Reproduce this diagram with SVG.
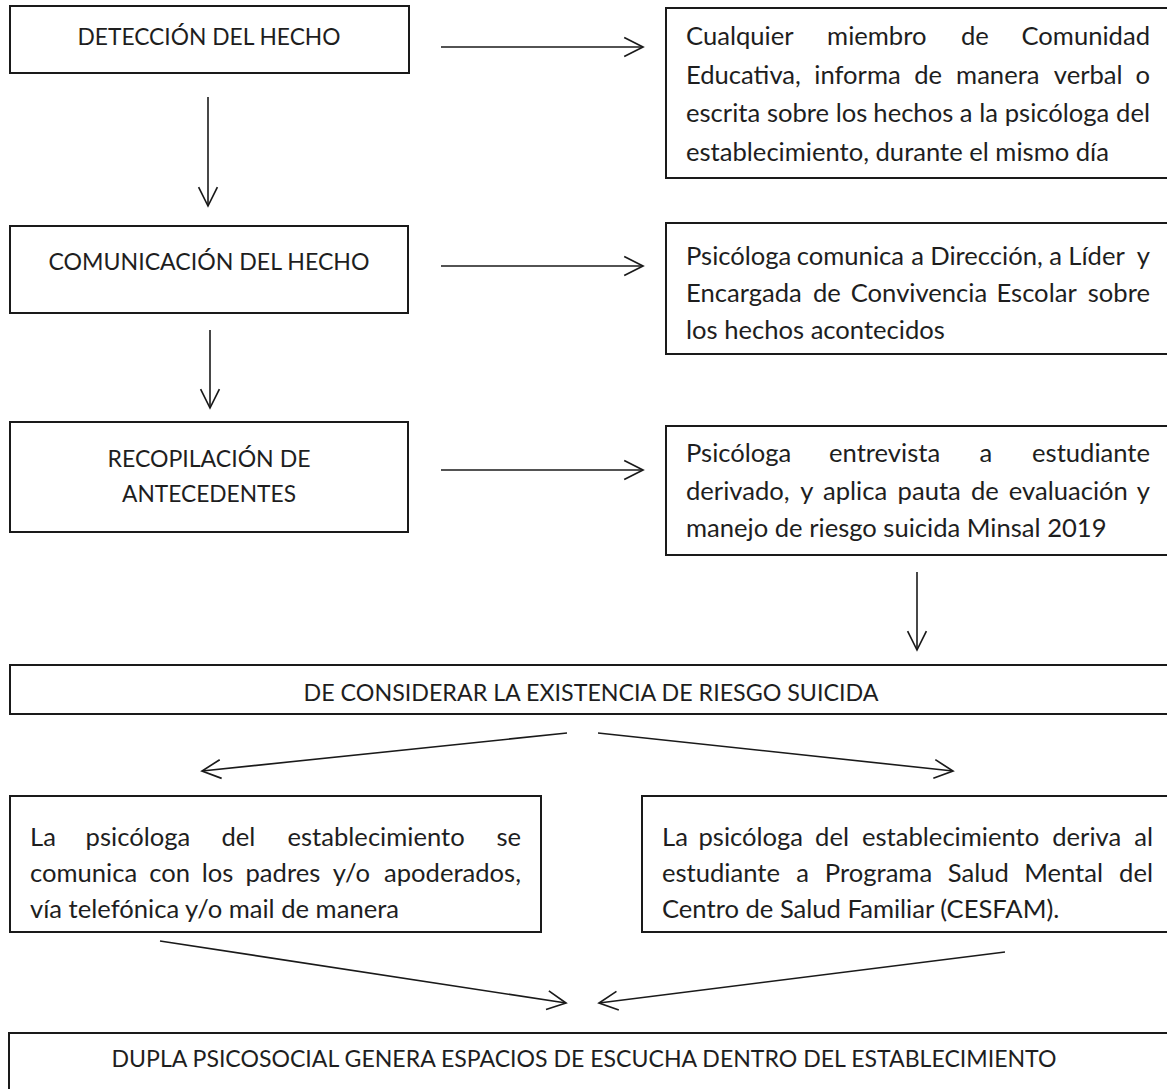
<svg xmlns="http://www.w3.org/2000/svg" width="1167" height="1089" viewBox="0 0 1167 1089">
<style>
.box{fill:#fff;stroke:#1a1a1a;stroke-width:2}
.t{font-family:Lato,"Liberation Sans",sans-serif;font-size:25.6px;fill:#1e1e1e}
.h{font-family:Lato,"Liberation Sans",sans-serif;font-size:24px;fill:#1e1e1e;text-anchor:middle}
.conn line{stroke:#1a1a1a;stroke-width:1.6;marker-end:url(#ah)}
</style>
<defs>
<marker id="ah" markerUnits="userSpaceOnUse" markerWidth="24" markerHeight="24" viewBox="-21 -11 23 22" refX="0" refY="0" orient="auto" overflow="visible">
<path d="M-18,-9 L0,0 L-18,9" fill="none" stroke="#1a1a1a" stroke-width="1.6"/>
</marker>
</defs>
<rect width="1167" height="1089" fill="#fff"/>
<g id="connectors" class="conn">
<line x1="441" y1="47" x2="643" y2="47"/>
<line x1="208" y1="97" x2="208" y2="206"/>
<line x1="441" y1="266" x2="643" y2="266"/>
<line x1="210" y1="330" x2="210" y2="408"/>
<line x1="441" y1="470" x2="643" y2="470"/>
<line x1="917" y1="572" x2="917" y2="650"/>
<line x1="567" y1="733" x2="202" y2="771"/>
<line x1="598" y1="733" x2="953" y2="771"/>
<line x1="160" y1="941" x2="566" y2="1003"/>
<line x1="1005" y1="952" x2="599" y2="1003"/>
</g>
<g id="n1">
<rect class="box" x="10" y="6" width="399" height="67"/>
<text class="h" x="209" y="45" textLength="263" lengthAdjust="spacingAndGlyphs">DETECCIÓN DEL HECHO</text>
</g>
<g id="n2">
<rect class="box" x="666" y="8" width="509" height="170"/>
<text class="t" y="45"><tspan x="686">Cualquier</tspan><tspan x="876.8" text-anchor="middle">miembro</tspan><tspan x="974.9" text-anchor="middle">de</tspan><tspan x="1150" text-anchor="end">Comunidad</tspan></text>
<text class="t" y="84"><tspan x="686">Educativa,</tspan><tspan x="857.5" text-anchor="middle">informa</tspan><tspan x="928.2" text-anchor="middle">de</tspan><tspan x="997.8" text-anchor="middle">manera</tspan><tspan x="1088.2" text-anchor="middle">verbal</tspan><tspan x="1150" text-anchor="end">o</tspan></text>
<text class="t" y="122"><tspan x="686">escrita</tspan><tspan x="798" text-anchor="middle">sobre</tspan><tspan x="851.5" text-anchor="middle">los</tspan><tspan x="913.3" text-anchor="middle">hechos</tspan><tspan x="966" text-anchor="middle">a</tspan><tspan x="988.7" text-anchor="middle">la</tspan><tspan x="1057" text-anchor="middle">psicóloga</tspan><tspan x="1150" text-anchor="end">del</tspan></text>
<text class="t" x="686" y="161">establecimiento, durante el mismo día</text>
</g>
<g id="n3">
<rect class="box" x="10" y="226" width="398" height="87"/>
<text class="h" x="209" y="270" textLength="321" lengthAdjust="spacingAndGlyphs">COMUNICACIÓN DEL HECHO</text>
</g>
<g id="n4">
<rect class="box" x="666" y="223" width="509" height="131"/>
<text class="t" y="265"><tspan x="686">Psicóloga</tspan><tspan x="850.4" text-anchor="middle">comunica</tspan><tspan x="917.5" text-anchor="middle">a</tspan><tspan x="986.5" text-anchor="middle">Dirección,</tspan><tspan x="1055.5" text-anchor="middle">a</tspan><tspan x="1096.5" text-anchor="middle">Líder</tspan><tspan x="1150" text-anchor="end">y</tspan></text>
<text class="t" y="302"><tspan x="686">Encargada</tspan><tspan x="826.9" text-anchor="middle">de</tspan><tspan x="919" text-anchor="middle">Convivencia</tspan><tspan x="1036.6" text-anchor="middle">Escolar</tspan><tspan x="1150" text-anchor="end">sobre</tspan></text>
<text class="t" x="686" y="339">los hechos acontecidos</text>
</g>
<g id="n5">
<rect class="box" x="10" y="422" width="398" height="110"/>
<text class="h" x="209" y="467" textLength="203" lengthAdjust="spacingAndGlyphs">RECOPILACIÓN DE</text>
<text class="h" x="209" y="502" textLength="174" lengthAdjust="spacingAndGlyphs">ANTECEDENTES</text>
</g>
<g id="n6">
<rect class="box" x="666" y="426" width="509" height="129"/>
<text class="t" y="462"><tspan x="686">Psicóloga</tspan><tspan x="884.6" text-anchor="middle">entrevista</tspan><tspan x="985.8" text-anchor="middle">a</tspan><tspan x="1150" text-anchor="end">estudiante</tspan></text>
<text class="t" y="500"><tspan x="686">derivado,</tspan><tspan x="806.9" text-anchor="middle">y</tspan><tspan x="855.1" text-anchor="middle">aplica</tspan><tspan x="929.2" text-anchor="middle">pauta</tspan><tspan x="984.9" text-anchor="middle">de</tspan><tspan x="1068.3" text-anchor="middle">evaluación</tspan><tspan x="1150" text-anchor="end">y</tspan></text>
<text class="t" x="686" y="537">manejo de riesgo suicida Minsal 2019</text>
</g>
<g id="n7">
<rect class="box" x="10" y="665" width="1165" height="49"/>
<text class="h" x="591" y="701" textLength="575" lengthAdjust="spacingAndGlyphs">DE CONSIDERAR LA EXISTENCIA DE RIESGO SUICIDA</text>
</g>
<g id="n8">
<rect class="box" x="10" y="796" width="531" height="136"/>
<text class="t" y="846"><tspan x="30">La</tspan><tspan x="137.9" text-anchor="middle">psicóloga</tspan><tspan x="238.4" text-anchor="middle">del</tspan><tspan x="376.1" text-anchor="middle">establecimiento</tspan><tspan x="521" text-anchor="end">se</tspan></text>
<text class="t" y="882"><tspan x="30">comunica</tspan><tspan x="169.7" text-anchor="middle">con</tspan><tspan x="217.5" text-anchor="middle">los</tspan><tspan x="282.9" text-anchor="middle">padres</tspan><tspan x="351.4" text-anchor="middle">y/o</tspan><tspan x="521" text-anchor="end">apoderados,</tspan></text>
<text class="t" x="30" y="918">vía telefónica y/o mail de manera</text>
</g>
<g id="n9">
<rect class="box" x="642" y="796" width="533" height="136"/>
<text class="t" y="846"><tspan x="662">La</tspan><tspan x="750.8" text-anchor="middle">psicóloga</tspan><tspan x="832" text-anchor="middle">del</tspan><tspan x="950.6" text-anchor="middle">establecimiento</tspan><tspan x="1086.7" text-anchor="middle">deriva</tspan><tspan x="1153" text-anchor="end">al</tspan></text>
<text class="t" y="882"><tspan x="662">estudiante</tspan><tspan x="802.6" text-anchor="middle">a</tspan><tspan x="878.5" text-anchor="middle">Programa</tspan><tspan x="978.3" text-anchor="middle">Salud</tspan><tspan x="1063.6" text-anchor="middle">Mental</tspan><tspan x="1153" text-anchor="end">del</tspan></text>
<text class="t" x="662" y="918">Centro de Salud Familiar (CESFAM).</text>
</g>
<g id="n10">
<rect class="box" x="9" y="1033" width="1166" height="70"/>
<text class="h" x="584" y="1067" textLength="945" lengthAdjust="spacingAndGlyphs">DUPLA PSICOSOCIAL GENERA ESPACIOS DE ESCUCHA DENTRO DEL ESTABLECIMIENTO</text>
</g>
</svg>
